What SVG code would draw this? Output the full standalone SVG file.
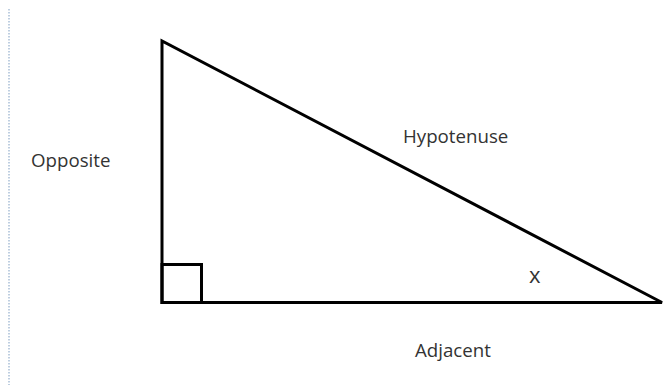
<svg xmlns="http://www.w3.org/2000/svg" width="665" height="385" viewBox="0 0 665 385">
<style>
.shape{fill:none;stroke:#000;stroke-width:3;stroke-linejoin:miter}
.lbl{font-family:"Open Sans","Liberation Sans",sans-serif;font-size:18.7px;fill:#333}
</style>
<rect x="0" y="0" width="665" height="385" fill="#fff"/>
<line x1="9" y1="9" x2="9" y2="385" stroke="#a9bfd6" stroke-width="1.5" stroke-dasharray="1.5 1.5"/>
<g id="triangle">
<polygon class="shape" points="162,41 162,302.5 662,302.5"/>
</g>
<g id="right-angle">
<rect class="shape" x="162" y="264.5" width="39.5" height="38"/>
</g>
<g id="opposite"><text class="lbl" x="31" y="167">Opposite</text></g>
<g id="hypotenuse"><text class="lbl" x="403" y="143">Hypotenuse</text></g>
<g id="angle-x"><text class="lbl" x="529" y="283" style="font-size:22px">x</text></g>
<g id="adjacent"><text class="lbl" x="415" y="357">Adjacent</text></g>
</svg>
